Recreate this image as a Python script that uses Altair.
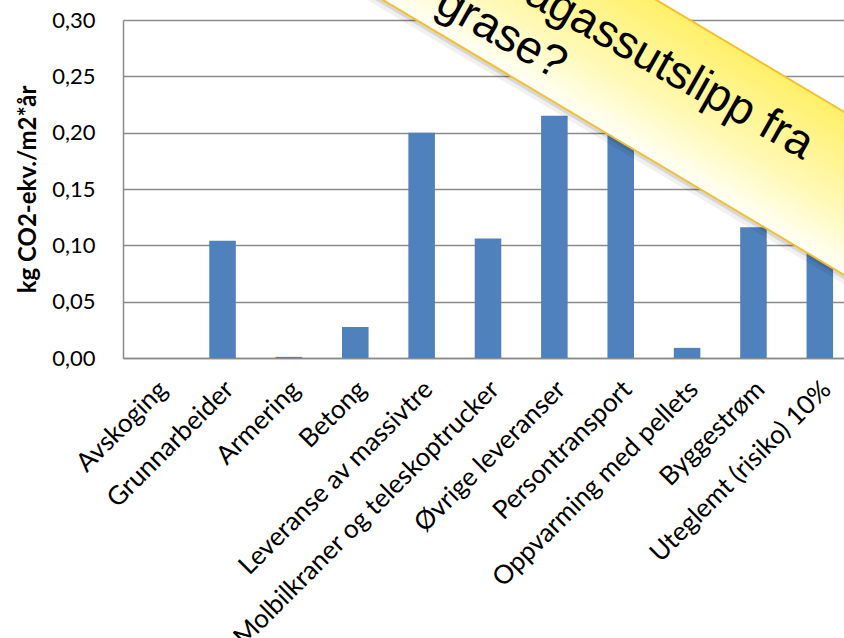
import altair as alt
import pandas as pd

categories = [
    "Avskoging", "Grunnarbeider", "Armering", "Betong",
    "Leveranse av massivtre", "Molbilkraner og teleskoptrucker",
    "Øvrige leveranser", "Persontransport", "Oppvarming med pellets",
    "Byggestrøm", "Uteglemt (risiko) 10%",
]
values = [0.0, 0.104, 0.001, 0.0275, 0.200, 0.106, 0.215, 0.210, 0.009, 0.116, 0.099]
y_ticks = [0.0, 0.05, 0.10, 0.15, 0.20, 0.25, 0.30]
y_title = "kg CO2-ekv./m2*år"
banner_line1 = "Klimagassutslipp fra"
banner_line2 = "grase?"

df = pd.DataFrame({"kategori": categories, "verdi": values})
one = pd.DataFrame({"k": [0]})

FONT = "Lato"
GRID = "#8A8A8A"

bars = alt.Chart(df).mark_bar(color="#4F81BD").encode(
    x=alt.X(
        "kategori:N", sort=categories,
        scale=alt.Scale(range=[0, 730], paddingInner=0.6, paddingOuter=0.3),
        axis=alt.Axis(
            title=None, labelAngle=-45, labelAlign="right", labelBaseline="middle",
            labelPadding=27, labelOffset=7, labelFont=FONT, labelFontSize=26,
            labelColor="#000000", domainColor=GRID, domainWidth=1.5,
            ticks=False, tickSize=0, labelLimit=0, labelOverlap=False,
        ),
    ),
    y=alt.Y(
        "verdi:Q",
        scale=alt.Scale(domain=[0, 0.3], nice=False, zero=True),
        axis=alt.Axis(
            values=y_ticks,
            labelExpr="replace(format(datum.value, '.2f'), '.', ',')",
            labelFont=FONT, labelFontSize=22, labelColor="#000000", labelPadding=28,
            ticks=False, tickSize=0, domainColor=GRID, domainWidth=1.5,
            grid=True, gridColor=GRID, gridWidth=1.5,
            title=y_title, titleFont=FONT, titleFontSize=24, titleFontWeight="bold",
            titleColor="#000000", titleAngle=270, titleX=-88, titleY=169,
            titleAlign="center", titleBaseline="alphabetic",
        ),
    ),
)

# banner (decorative overlay), centre line in plot pixel coordinates
bx1, by1, bx2, by2 = 250, -107.4, 800, 220.4

def band(width, color, opacity=1.0, dx=0.0, dy=0.0):
    return alt.Chart(one).mark_rule(
        stroke=color, strokeWidth=width, strokeOpacity=opacity, strokeCap="butt"
    ).encode(
        x=alt.value(bx1 + dx), y=alt.value(by1 + dy),
        x2=alt.value(bx2 + dx), y2=alt.value(by2 + dy),
    )

shadow1 = band(146, "#000000", 0.06, -2.5, 4.3)
shadow2 = band(142, "#000000", 0.10, -1.5, 2.6)
border = band(142, "#F5C02E")

grad = alt.LinearGradient(
    gradient="linear", x1=0, y1=1, x2=1, y2=0,
    stops=[
        alt.GradientStop(offset=0.38, color="#FFFFF4"),
        alt.GradientStop(offset=0.47, color="#FFF9B8"),
        alt.GradientStop(offset=0.62, color="#FFF06A"),
    ],
)
fill = alt.Chart(one).mark_rule(stroke=grad, strokeWidth=138, strokeCap="butt").encode(
    x=alt.value(bx1), y=alt.value(by1), x2=alt.value(bx2), y2=alt.value(by2)
)

txt1 = alt.Chart(one).mark_text(
    text=banner_line1, angle=29.5, align="right", baseline="alphabetic",
    font="Liberation Sans", fontSize=46, color="#000000",
).encode(x=alt.value(680), y=alt.value(140))

txt2 = alt.Chart(one).mark_text(
    text=banner_line2, angle=29.5, align="right", baseline="alphabetic",
    font="Liberation Sans", fontSize=46, color="#000000",
).encode(x=alt.value(433), y=alt.value(60))

chart = alt.layer(bars, shadow1, shadow2, border, fill, txt1, txt2).properties(
    width=721, height=338,
    autosize=alt.AutoSizeParams(type="none"),
    padding={"left": 123, "top": 20, "right": 0, "bottom": 280},
    background="white",
).configure_view(stroke=None)

chart.save("out.html", embed_options={"renderer": "svg", "actions": False})
